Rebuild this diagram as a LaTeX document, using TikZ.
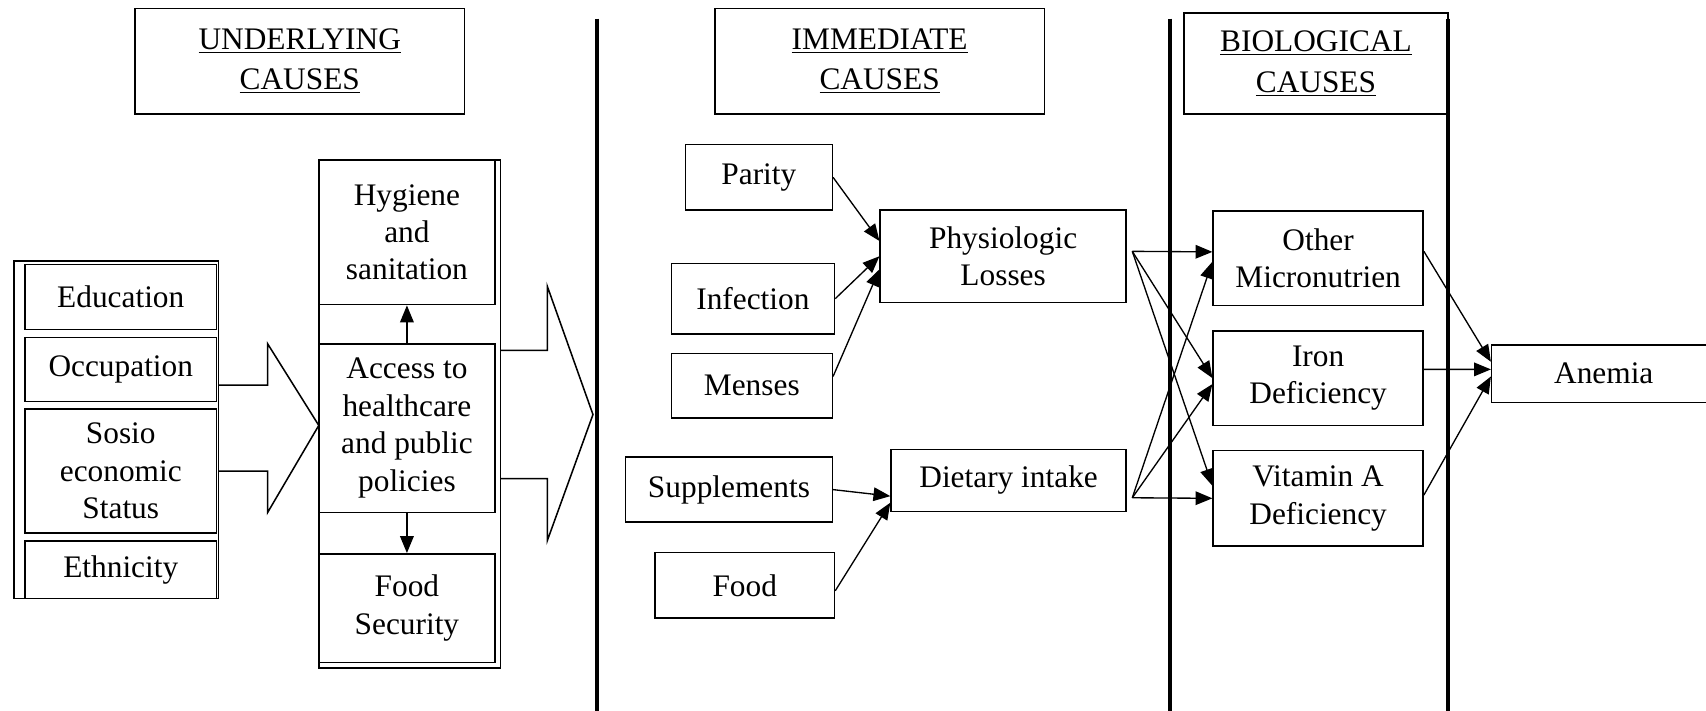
\documentclass[tikz,border=0pt]{standalone}
\usepackage{fontspec}
\setmainfont{Liberation Serif}
\usetikzlibrary{arrows.meta}

\tikzset{
  box/.style={draw, line width=0.8pt, align=center, inner sep=0pt,
    font=\fontsize{16.4}{19.6}\selectfont},
  headbox/.style={box, font=\fontsize{16.4}{21}\selectfont},
  link/.style={line width=0.7pt, -{Triangle[length=3.1mm,width=2.5mm]}},
  wall/.style={line width=2.1pt},
  bigarrow/.style={line width=0.8pt, line join=miter}
}

\begin{document}
\begin{tikzpicture}[x=0.02cm, y=-0.02cm]
\useasboundingbox (0,0) rectangle (1568,653);

% column walls
\draw[wall] (549,17) -- (549,660);
\draw[wall] (1075,17) -- (1075,660);
\draw[wall] (1331,17) -- (1331,660);

% headings
\node[headbox, minimum width=6.06cm, minimum height=1.94cm] (hund) at (275.5,56.5) {\underline{UNDERLYING}\\\underline{CAUSES}};
\node[headbox, minimum width=6.06cm, minimum height=1.94cm] (himm) at (808.5,56.5) {\underline{IMMEDIATE}\\\underline{CAUSES}};
\node[headbox, minimum width=4.86cm, minimum height=1.86cm] (hbio) at (1209.5,58.5) {\underline{BIOLOGICAL}\\\underline{CAUSES}};

% underlying causes
\draw[line width=0.8pt] (13,240) rectangle (201,550);
\node[box, minimum width=3.52cm, minimum height=1.2cm] (edu) at (111,273) {Education};
\node[box, minimum width=3.52cm, minimum height=1.18cm] (occ) at (111,339.5) {Occupation};
\node[box, minimum width=3.52cm, minimum height=2.28cm] (soc) at (111,433) {Sosio\\economic\\Status};
\node[box, minimum width=3.52cm, minimum height=1.06cm] (eth) at (111,523.5) {Ethnicity};

\draw[bigarrow] (201,354) -- (246,354) -- (246,316) -- (293,391) -- (246,471) -- (246,433) -- (201,433);

\draw[line width=0.8pt] (293,147) rectangle (460,614);
\node[box, minimum width=3.24cm, minimum height=2.66cm] (hyg) at (374,213.5) {Hygiene\\and\\sanitation};
\node[box, minimum width=3.24cm, minimum height=3.1cm] (acc) at (374,393.5) {Access to\\healthcare\\and public\\policies};
\node[box, minimum width=3.24cm, minimum height=2.0cm] (fsec) at (374,559) {Food\\Security};
\draw[link] (acc) -- (hyg);
\draw[link] (acc) -- (fsec);

\draw[bigarrow] (460,322) -- (503,322) -- (503,263) -- (545,381) -- (503,497) -- (503,440) -- (460,440);

% immediate causes
\node[box, minimum width=2.7cm, minimum height=1.2cm] (par) at (697.5,163) {Parity};
\node[box, minimum width=3.0cm, minimum height=1.3cm] (inf) at (692,274.5) {Infection};
\node[box, minimum width=2.96cm, minimum height=1.18cm] (men) at (691,354.5) {Menses};
\node[box, minimum width=4.52cm, minimum height=1.7cm] (phys) at (922,235.5) {Physiologic\\Losses};
\node[box, minimum width=3.8cm, minimum height=1.2cm] (supp) at (670,450) {Supplements};
\node[box, minimum width=3.3cm, minimum height=1.2cm] (food) at (684.5,538) {Food};
\node[box, minimum width=4.32cm, minimum height=1.14cm] (diet) at (927,441.5) {Dietary intake};

\draw[link] (par.east) -- ([yshift=0.28cm]phys.west);
\draw[link] (inf.east) -- (phys.west);
\draw[link] ([yshift=0.17cm]men.east) -- ([yshift=-0.24cm]phys.west);
\draw[link] (supp.east) -- ([yshift=-0.29cm]diet.west);
\draw[link] ([yshift=-0.1cm]food.east) -- ([yshift=-0.41cm]diet.west);

% biological causes
\node[box, minimum width=3.86cm, minimum height=1.74cm] (oth) at (1211.5,237.5) {Other\\Micronutrien};
\node[box, minimum width=3.86cm, minimum height=1.74cm] (iron) at (1211.5,347.5) {Iron\\Deficiency};
\node[box, minimum width=3.86cm, minimum height=1.76cm] (vita) at (1211.5,458) {Vitamin A\\Deficiency};
\node[box, minimum width=4.12cm, minimum height=1.06cm] (anem) at (1474,343.5) {Anemia};

\coordinate (pfan) at ([xshift=0.1cm,yshift=0.09cm]phys.east);
\coordinate (dfan) at ([xshift=0.1cm,yshift=-0.32cm]diet.east);
\draw[link] (pfan) -- ([yshift=0.12cm]oth.west);
\draw[link] (pfan) -- (iron.west);
\draw[link] (pfan) -- ([yshift=0.23cm]vita.west);
\draw[link] (dfan) -- ([yshift=-0.06cm]oth.west);
\draw[link] (dfan) -- ([yshift=-0.11cm]iron.west);
\draw[link] (dfan) -- (vita.west);

\draw[link] ([yshift=0.13cm]oth.east) -- ([yshift=0.22cm]anem.west);
\draw[link] ([yshift=0.16cm]iron.east) -- ([yshift=0.08cm]anem.west);
\draw[link] ([yshift=0.06cm]vita.east) -- ([yshift=-0.05cm]anem.west);

\end{tikzpicture}
\end{document}
